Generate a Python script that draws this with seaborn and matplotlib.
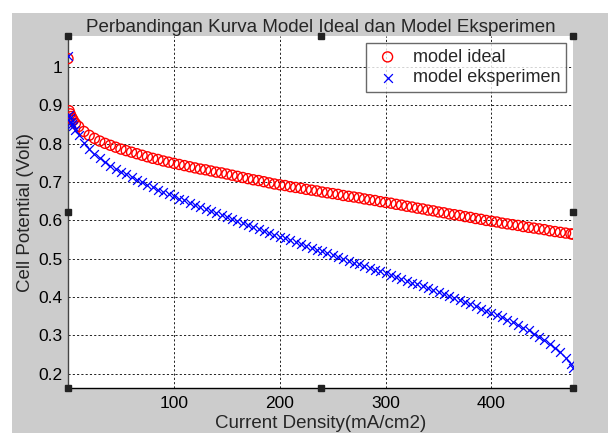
import numpy as np
import pandas as pd
import matplotlib
matplotlib.use('Agg')
import matplotlib.pyplot as plt
import seaborn as sns

# current density (mA/cm2)
current = [0, 1, 2, 3, 4, 5, 7, 10, 15, 20, 25, 30, 35, 40, 45, 50, 55, 60, 65, 70,
           75, 80, 85, 90, 95, 100, 105, 110, 115, 120, 125, 130, 135, 140, 145,
           150, 155, 160, 165, 170, 175, 180, 185, 190, 195, 200, 205, 210, 215,
           220, 225, 230, 235, 240, 245, 250, 255, 260, 265, 270, 275, 280, 285,
           290, 295, 300, 305, 310, 315, 320, 325, 330, 335, 340, 345, 350, 355,
           360, 365, 370, 375, 380, 385, 390, 395, 400, 405, 410, 415, 420, 425,
           430, 435, 440, 445, 450, 455, 460, 465, 470, 475, 477]

# cell potential, ideal model (Volt)
v_ideal = [1.022, 0.886, 0.878, 0.871, 0.866, 0.861, 0.853, 0.845, 0.832, 0.822,
           0.814, 0.807, 0.801, 0.796, 0.791, 0.786, 0.782, 0.778, 0.774, 0.770,
           0.766, 0.762, 0.759, 0.755, 0.752, 0.749, 0.746, 0.743, 0.740, 0.737,
           0.734, 0.732, 0.729, 0.726, 0.724, 0.721, 0.718, 0.715, 0.712, 0.709,
           0.706, 0.704, 0.701, 0.698, 0.695, 0.693, 0.691, 0.688, 0.686, 0.684,
           0.681, 0.679, 0.677, 0.674, 0.672, 0.670, 0.668, 0.665, 0.663, 0.661,
           0.659, 0.656, 0.654, 0.652, 0.649, 0.647, 0.645, 0.642, 0.640, 0.637,
           0.635, 0.632, 0.630, 0.627, 0.625, 0.622, 0.620, 0.617, 0.615, 0.613,
           0.610, 0.608, 0.605, 0.603, 0.600, 0.598, 0.596, 0.593, 0.591, 0.589,
           0.587, 0.584, 0.582, 0.580, 0.578, 0.576, 0.573, 0.571, 0.569, 0.567,
           0.565, 0.564]

# cell potential, experimental model (Volt)
v_eksperimen = [1.030, 0.875, 0.866, 0.858, 0.851, 0.845, 0.836, 0.824, 0.803, 0.787,
                0.773, 0.762, 0.752, 0.743, 0.735, 0.727, 0.720, 0.713, 0.706, 0.699,
                0.692, 0.686, 0.680, 0.674, 0.668, 0.663, 0.657, 0.652, 0.646, 0.641,
                0.635, 0.630, 0.625, 0.619, 0.614, 0.609, 0.604, 0.599, 0.593, 0.588,
                0.583, 0.578, 0.573, 0.568, 0.563, 0.558, 0.553, 0.548, 0.543, 0.538,
                0.534, 0.529, 0.524, 0.519, 0.514, 0.510, 0.505, 0.500, 0.495, 0.490,
                0.486, 0.481, 0.476, 0.471, 0.467, 0.462, 0.457, 0.452, 0.447, 0.442,
                0.437, 0.433, 0.428, 0.423, 0.418, 0.413, 0.408, 0.403, 0.397, 0.392,
                0.387, 0.382, 0.376, 0.370, 0.365, 0.359, 0.353, 0.347, 0.341, 0.334,
                0.327, 0.320, 0.313, 0.305, 0.297, 0.288, 0.278, 0.268, 0.257, 0.242,
                0.226, 0.214]

x_ticks = [100, 200, 300, 400]
y_ticks = [0.2, 0.3, 0.4, 0.5, 0.6, 0.7, 0.8, 0.9, 1.0]
y_labels = ['0.2', '0.3', '0.4', '0.5', '0.6', '0.7', '0.8', '0.9', '1']

df = pd.DataFrame({'current': current, 'ideal': v_ideal, 'eksperimen': v_eksperimen})

sns.set_style('white')
plt.rcParams['font.family'] = ['Liberation Sans', 'DejaVu Sans']

fig = plt.figure(figsize=(6.08, 4.33), dpi=100, facecolor='white')
# grey MATLAB-like figure background
fig.patches.append(plt.Rectangle((12 / 608, 0), 1 - 12 / 608, 1 - 13 / 433,
                                 transform=fig.transFigure, facecolor='#cccccc',
                                 edgecolor='none', zorder=-10))
ax = fig.add_axes([68 / 608, 45 / 433, 505 / 608, 352 / 433])
ax.set_facecolor('white')

sns.scatterplot(data=df, x='current', y='ideal', ax=ax, marker='o', s=52,
                facecolors='none', edgecolor='red', linewidth=1.0,
                label='model ideal', zorder=3)
sns.scatterplot(data=df, x='current', y='eksperimen', ax=ax, marker='x', s=40,
                color='blue', linewidth=0.9, label='model eksperimen', zorder=3)

ax.set_xlim(0, 477)
ax.set_ylim(0.163, 1.081)
ax.set_xticks(x_ticks)
ax.set_yticks(y_ticks)
ax.set_yticklabels(y_labels)
ax.grid(True, color='#222222', linestyle=(0, (2.2, 2.2)), linewidth=0.7)
ax.tick_params(axis='both', direction='in', length=4, labelsize=12.5, pad=4,
               colors='black')
ax.tick_params(axis='x', pad=6)

for side in ['top', 'right']:
    ax.spines[side].set_visible(False)
ax.spines['left'].set_color('#444444')
ax.spines['bottom'].set_color('black')
ax.spines['left'].set_linewidth(1.0)
ax.spines['bottom'].set_linewidth(1.0)

ax.set_title('Perbandingan Kurva Model Ideal dan Model Eksperimen',
             fontsize=13.5, pad=3)
ax.set_xlabel('Current Density(mA/cm2)', fontsize=13.5, labelpad=3)
ax.set_ylabel('Cell Potential (Volt)', fontsize=13.5, labelpad=3)

leg = ax.legend(loc='upper right', fontsize=13, frameon=True, fancybox=False,
                borderaxespad=0.4, handletextpad=0.5, borderpad=0.3,
                labelspacing=0.2, handlelength=1.8)
leg.get_frame().set_edgecolor('#444444')
leg.get_frame().set_linewidth(1.0)

# figure-editor selection handles
for hx, hy in [(0, 0), (0.5, 0), (1, 0), (0, 0.5), (1, 0.5), (0, 1), (0.5, 1), (1, 1)]:
    ax.plot(hx, hy, marker='s', ms=5, color='#222222', transform=ax.transAxes,
            clip_on=False, zorder=10)

fig.savefig('out.png', dpi=100, facecolor=fig.get_facecolor())
